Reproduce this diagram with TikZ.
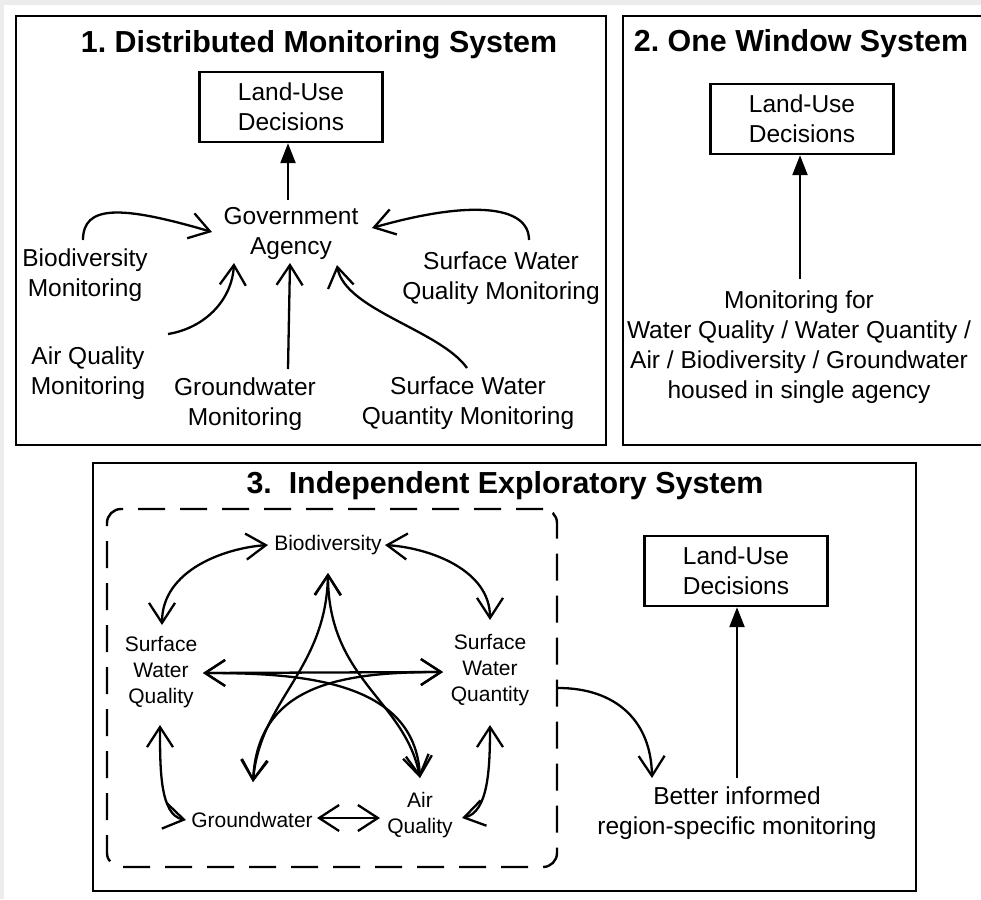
\documentclass[tikz,border=0pt]{standalone}
\usepackage{fontspec}
\setmainfont{Liberation Sans}
\usetikzlibrary{arrows.meta,calc}
\frenchspacing
\begin{document}
\begin{tikzpicture}[x=1pt,y=-1pt,
  panel/.style={draw, line width=2.6pt},
  ttl/.style={font=\bfseries\fontsize{30.4}{36}\selectfont, inner sep=0pt},
  lbl/.style={font=\fontsize{24.5}{30}\selectfont, align=center, inner sep=2pt},
  sml/.style={font=\fontsize{21}{26}\selectfont, align=center, inner sep=1pt},
  lubox/.style={draw, line width=2.4pt, minimum width=183pt, minimum height=70pt, inner sep=2pt,
                font=\fontsize{24.5}{30}\selectfont, align=center},
  conn/.style={line width=2.3pt, -{Straight Barb[length=20pt,width=26pt]}},
  dconn/.style={line width=2.3pt, {Straight Barb[length=20pt,width=26pt]}-{Straight Barb[length=20pt,width=26pt]}},
  solidarrow/.style={line width=2.3pt, -{Triangle[length=20pt,width=15pt]}},
  dashbox/.style={draw, line width=2.4pt, dash pattern=on 27pt off 15pt, rounded corners=14pt,
                  minimum width=450pt, minimum height=358pt, inner sep=0pt},
]
\clip (0,0) rectangle (981,899);
\fill[white] (0,0) rectangle (981,899);
\fill[gray!15] (0,0) rectangle (981,5);
\fill[gray!15] (0,0) rectangle (4,899);

% ---------- panels ----------
\draw[panel] (16,16) rectangle (606,445);
\draw[panel] (623,16) rectangle (990,445);
\draw[panel] (93,463) rectangle (916,891);

% ---------- titles ----------
\node[ttl] (t1) at (319,45) {1. Distributed Monitoring System};
\node[ttl] (t2) at (801,44) {2. One Window System};
\node[ttl] (t3) at (505,486) {3.~~Independent Exploratory System};

% ---------- panel 1 ----------
\node[lubox] (lu1) at (291,107) {Land-Use\\Decisions};
\node[lbl] (gov) at (291,233) {Government\\Agency};
\node[lbl] (bio1) at (85,275) {Biodiversity\\Monitoring};
\node[lbl] (air1) at (88,373) {Air Quality\\Monitoring};
\node[lbl] (gw1) at (245,404) {Groundwater\\Monitoring};
\node[lbl] (swql1) at (501,278) {Surface Water\\Quality Monitoring};
\node[lbl] (swqn1) at (468,403) {Surface Water\\Quantity Monitoring};

\coordinate (govtop) at (288,200);
\coordinate (govW) at (212,232);
\coordinate (govSW) at (234,263);
\coordinate (govS) at (290,263);
\coordinate (govE) at (372,228);
\coordinate (govSE) at (337,265);
\coordinate (bio1s) at (83,240);
\coordinate (air1s) at (168,334);
\coordinate (gw1s) at (288,369);
\coordinate (swql1s) at (529,240);
\coordinate (swqn1s) at (467,368);

\draw[solidarrow] (govtop) -- (govtop |- lu1.south);
\draw[conn] (bio1s) .. controls (83,205) and (120,205) .. (govW);
\draw[conn] (air1s) .. controls (205,328) and (232,300) .. (govSW);
\draw[conn] (gw1s) -- (govS);
\draw[conn] (swql1s) .. controls (529,205) and (470,200) .. (govE);
\draw[conn] (swqn1s) .. controls (440,330) and (345,310) .. (govSE);

% ---------- panel 2 ----------
\node[lubox] (lu2) at (802,119) {Land-Use\\Decisions};
\node[lbl] (mon) at (799,347) {Monitoring for\\Water Quality / Water Quantity /\\Air / Biodiversity / Groundwater\\housed in single agency};
\coordinate (mons) at (800,279);
\draw[solidarrow] (mons) -- (mons |- lu2.south);

% ---------- panel 3 ----------
\node[dashbox] (dbox) at (332,688) {};
\node[lubox] (lu3) at (736,571) {Land-Use\\Decisions};
\node[lbl] (better) at (737,813) {Better informed\\region-specific monitoring};
\coordinate (bets) at (737,778);
\coordinate (betin) at (652,778);
\draw[solidarrow] (bets) -- (bets |- lu3.south);
\draw[conn] (dbox.east) .. controls (615,688) and (651,720) .. (betin);

\node[sml] (bio) at (328,545) {Biodiversity};
\node[sml] (swql) at (161,672) {Surface\\Water\\Quality};
\node[sml] (swqn) at (490,670) {Surface\\Water\\Quantity};
\node[sml] (gw) at (252,820) {Groundwater};
\node[sml] (air) at (420,815) {Air\\Quality};

\coordinate (bioW) at (268,545);
\coordinate (bioE) at (385,545);
\coordinate (bioS) at (328,573);
\coordinate (swqlN) at (162,625);
\coordinate (swqlS) at (160,725);
\coordinate (swqlE) at (203,673);
\coordinate (swqnN) at (490,620);
\coordinate (swqnS) at (490,725);
\coordinate (swqnW) at (443,672);
\coordinate (gwW) at (186,820);
\coordinate (gwE) at (317,818);
\coordinate (gwN) at (253,782);
\coordinate (airW) at (380,818);
\coordinate (airE) at (462,818);
\coordinate (airN) at (420,778);

\draw[dconn] (bioW) .. controls (225,548) and (162,570) .. (swqlN);
\draw[dconn] (bioE) .. controls (430,548) and (490,570) .. (swqnN);
\draw[dconn] (swqlS) .. controls (160,770) and (160,815) .. (gwW);
\draw[dconn] (swqnS) .. controls (490,770) and (488,812) .. (airE);
\draw[dconn] (gwE) -- (airW);

\draw[dconn] (bioS) .. controls (326,670) and (260,700) .. (gwN);
\draw[dconn] (bioS) .. controls (328,680) and (405,700) .. (airN);
\draw[dconn] (swqlE) -- (swqnW);
\draw[dconn] (swqlE) .. controls (300,673) and (415,680) .. (airN);
\draw[dconn] (swqnW) .. controls (340,672) and (258,685) .. (gwN);
\end{tikzpicture}
\end{document}
